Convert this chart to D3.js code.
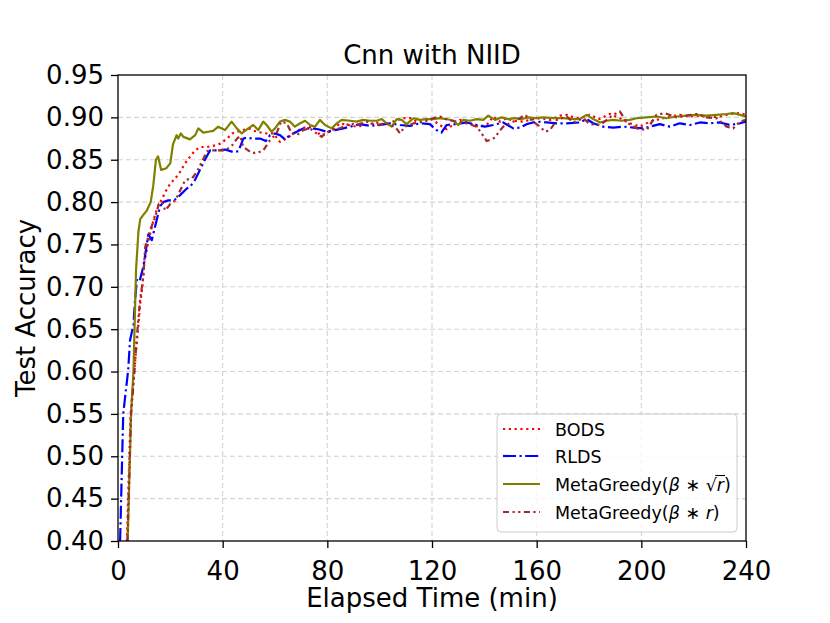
<!DOCTYPE html>
<html>
<head>
<meta charset="utf-8">
<script src="https://cdn.jsdelivr.net/npm/d3@7"></script>
<style>
  html, body { margin: 0; padding: 0; background: #fff; }
  svg { display: block; font-family: "DejaVu Sans", sans-serif; }
</style>
</head>
<body>
<div id="chart"></div>
<script>
// values: [elapsed minutes, test accuracy]
const bods = [[3.4,0.40],[4.8,0.55],[6.2,0.60],[7.5,0.645],[8.5,0.68],[9.3,0.70],[10,0.728],[11.7,0.755],[13.6,0.779],[15,0.793],[16.2,0.80],[18.1,0.812],[20,0.822],[21.9,0.828],[23.8,0.836],[25.7,0.846],[27.6,0.854],[29.5,0.861],[31.5,0.865],[34,0.865],[37.2,0.867],[39.1,0.869],[41.7,0.875],[43.6,0.881],[45.5,0.883],[47.9,0.885],[49.8,0.887],[53,0.883],[56.8,0.881],[59.4,0.881],[61.9,0.871],[64.5,0.875],[67,0.881],[70.2,0.887],[72.7,0.889],[75.3,0.887],[77.2,0.879],[79.8,0.881],[82.9,0.887],[84.8,0.893],[88,0.891],[91.2,0.889],[95,0.891],[98.9,0.894],[102.7,0.891],[105.2,0.895],[108.4,0.899],[112.2,0.899],[114.1,0.895],[119.2,0.899],[123,0.891],[125.6,0.886],[130.7,0.897],[134.5,0.893],[137.7,0.889],[140.9,0.891],[143.4,0.901],[146,0.895],[148.5,0.899],[151.1,0.896],[154.9,0.895],[157.4,0.897],[161.3,0.899],[165.1,0.897],[168.9,0.902],[171.5,0.903],[174.1,0.90],[176.5,0.899],[180.3,0.903],[184,0.898],[188,0.904],[191.8,0.899],[195.6,0.893],[199.5,0.889],[203.3,0.895],[207.1,0.898],[210.9,0.901],[214.7,0.903],[218.6,0.901],[222.4,0.902],[226.2,0.90],[230,0.901],[233.9,0.904],[237.7,0.905],[240,0.903]];

const rlds = [[0.8,0.40],[2.0,0.55],[3.9,0.602],[4.6,0.637],[5.9,0.655],[6.5,0.684],[7.2,0.708],[8.2,0.706],[9.7,0.724],[11.6,0.762],[12.9,0.755],[14.8,0.779],[16.1,0.795],[17.3,0.80],[19.2,0.802],[21.1,0.802],[22.4,0.804],[24.3,0.81],[26.3,0.816],[27.5,0.818],[29.4,0.826],[31.3,0.838],[33.2,0.85],[35.2,0.861],[37.7,0.861],[40.9,0.862],[44.1,0.859],[46,0.86],[47.9,0.875],[49.2,0.876],[51.7,0.875],[54.3,0.875],[56.5,0.872],[58.1,0.879],[60,0.881],[61.9,0.879],[63.8,0.874],[65.7,0.879],[68.3,0.883],[70.8,0.887],[74,0.887],[76.5,0.886],[79.8,0.883],[82.9,0.885],[86.1,0.887],[88.7,0.889],[92.5,0.892],[96.3,0.89],[100.1,0.891],[103.9,0.893],[107.8,0.891],[111.6,0.89],[115.4,0.893],[119.2,0.892],[121.7,0.885],[123.6,0.882],[125.6,0.891],[129.4,0.892],[133.2,0.894],[137.1,0.891],[140.2,0.889],[143.4,0.891],[147.2,0.894],[151.1,0.887],[153.6,0.888],[156.2,0.892],[160,0.895],[163.8,0.894],[167.7,0.893],[171.5,0.893],[176.5,0.894],[179.1,0.898],[181.6,0.893],[185.4,0.889],[189.3,0.888],[193.1,0.889],[196.9,0.888],[200.7,0.887],[203.3,0.889],[207.1,0.892],[210.9,0.889],[214.7,0.893],[218.6,0.891],[222.4,0.894],[226.2,0.893],[230,0.894],[233.9,0.891],[237.7,0.893],[240,0.895]];

const metaSqrt = [[3.7,0.40],[5.0,0.55],[5.9,0.60],[6.9,0.72],[7.8,0.765],[8.5,0.78],[9.7,0.785],[11,0.79],[12.5,0.80],[13.5,0.82],[14.5,0.85],[15.3,0.854],[16.5,0.838],[18.5,0.84],[20,0.846],[21,0.868],[22.4,0.879],[23,0.875],[24,0.881],[25,0.877],[27.5,0.874],[29.5,0.879],[30.7,0.887],[32.6,0.882],[34.5,0.883],[36.4,0.884],[38.3,0.889],[40.9,0.885],[43.4,0.895],[45.4,0.887],[47.3,0.881],[49.8,0.887],[51.7,0.891],[53.6,0.885],[55.5,0.895],[56.8,0.891],[58.7,0.883],[60,0.887],[61.9,0.895],[63.8,0.897],[65.7,0.895],[67.6,0.889],[69.6,0.893],[71.5,0.896],[73.4,0.891],[75.3,0.889],[77.2,0.897],[79.1,0.891],[81.7,0.887],[83.6,0.893],[85.5,0.897],[88.7,0.896],[91.2,0.895],[93.7,0.897],[96.3,0.896],[98.9,0.896],[100.8,0.898],[102.7,0.893],[104.6,0.889],[106.5,0.898],[108.4,0.897],[110.3,0.892],[112.9,0.899],[115.4,0.897],[118,0.898],[120.5,0.898],[123,0.899],[125.6,0.898],[128.1,0.896],[130,0.891],[132,0.897],[134.5,0.896],[137.1,0.898],[139.6,0.897],[141.5,0.902],[144.1,0.897],[146.6,0.90],[149.2,0.898],[151.7,0.899],[154.3,0.898],[156.8,0.90],[159.4,0.899],[162.6,0.90],[166.4,0.899],[170.2,0.899],[174.1,0.898],[176.5,0.898],[179.1,0.903],[181.6,0.898],[184.2,0.894],[186.7,0.896],[189.3,0.897],[192.4,0.896],[195.6,0.897],[198.2,0.899],[202,0.90],[205.8,0.901],[209.6,0.899],[213.5,0.901],[217.3,0.902],[221.1,0.903],[225,0.902],[228.8,0.903],[232.6,0.904],[235.1,0.905],[237.7,0.903],[240,0.901]];

const metaR = [[3.6,0.40],[5,0.55],[6.3,0.60],[7.1,0.637],[8.4,0.684],[9.7,0.712],[10.4,0.747],[12.3,0.767],[14.3,0.783],[15.6,0.798],[16.8,0.80],[18.1,0.79],[20,0.798],[21.9,0.802],[23.8,0.814],[25.7,0.826],[28.3,0.828],[30.2,0.836],[32.1,0.848],[34,0.86],[35.9,0.861],[38.5,0.861],[41,0.861],[43.6,0.867],[45.5,0.875],[46.7,0.878],[47.9,0.865],[51.1,0.858],[53,0.858],[55.5,0.861],[58.1,0.873],[60.6,0.881],[62.3,0.895],[64.5,0.893],[66.4,0.881],[68.3,0.879],[70.8,0.885],[73.4,0.887],[75.9,0.881],[77.8,0.877],[81,0.885],[84.8,0.887],[88.7,0.893],[91.2,0.891],[95,0.895],[98.9,0.891],[102.7,0.893],[105.9,0.889],[107.8,0.881],[109.5,0.889],[113,0.893],[117,0.895],[120.5,0.899],[123,0.901],[126,0.897],[129.5,0.895],[133.2,0.893],[137.1,0.889],[139,0.881],[140.9,0.872],[142.5,0.874],[144.1,0.876],[145.3,0.882],[147.2,0.889],[149.8,0.893],[153.6,0.899],[155.5,0.903],[157.4,0.898],[161.3,0.889],[163.2,0.883],[165.1,0.885],[167.7,0.897],[171.5,0.901],[174,0.894],[177.8,0.899],[180.3,0.892],[184.2,0.891],[189.3,0.903],[191.8,0.907],[194.4,0.894],[198.2,0.887],[202,0.885],[205.8,0.903],[209,0.905],[213.5,0.90],[217.3,0.902],[221.1,0.904],[225,0.90],[228.8,0.899],[232.6,0.889],[235.1,0.887],[237.7,0.895],[240,0.897]];

const xTicks = [0, 40, 80, 120, 160, 200, 240];
const yTicks = [0.40, 0.45, 0.50, 0.55, 0.60, 0.65, 0.70, 0.75, 0.80, 0.85, 0.90, 0.95];

const seriesList = [
    {key: "bods", data: bods, color: "red", dash: "2.2,3.6"},
    {key: "rlds", data: rlds, color: "blue", dash: "13,3.5,2.2,3.5"},
    {key: "sqrt", data: metaSqrt, color: "#808000", dash: null},
    {key: "r", data: metaR, color: "#a52a2a", dash: "6,3.5,2.2,3.5,2.2,3.5"},
];

const W = 830, H = 623;
const margin = {left: 118, right: 84, top: 75, bottom: 82};
const innerW = W - margin.left - margin.right;
const innerH = H - margin.top - margin.bottom;

const x = d3.scaleLinear().domain([0, 240]).range([0, innerW]);
const y = d3.scaleLinear().domain([0.40, 0.95]).range([innerH, 0]);

const svg = d3.select("#chart").append("svg")
    .attr("width", W)
    .attr("height", H);

const g = svg.append("g")
    .attr("transform", `translate(${margin.left},${margin.top})`);

g.append("defs").append("clipPath")
    .attr("id", "plot-clip")
    .append("rect")
    .attr("width", innerW)
    .attr("height", innerH);

// grid
g.append("g")
    .selectAll("line")
    .data(xTicks.slice(1, -1))
    .join("line")
    .attr("x1", d => x(d)).attr("x2", d => x(d))
    .attr("y1", 0).attr("y2", innerH)
    .attr("stroke", "#d3d3d3")
    .attr("stroke-width", 1.1)
    .attr("stroke-dasharray", "5,3");

g.append("g")
    .selectAll("line")
    .data(yTicks.slice(1, -1))
    .join("line")
    .attr("x1", 0).attr("x2", innerW)
    .attr("y1", d => y(d)).attr("y2", d => y(d))
    .attr("stroke", "#d3d3d3")
    .attr("stroke-width", 1.1)
    .attr("stroke-dasharray", "5,3");

// lines
const line = d3.line()
    .x(d => x(d[0]))
    .y(d => y(d[1]));

const lines = g.append("g").attr("clip-path", "url(#plot-clip)");
seriesList.forEach(s => {
    lines.append("path")
        .datum(s.data)
        .attr("fill", "none")
        .attr("stroke", s.color)
        .attr("stroke-width", 2.2)
        .attr("stroke-dasharray", s.dash)
        .attr("stroke-linejoin", "round")
        .attr("d", line);
});

// axes
const xAxis = g.append("g")
    .attr("transform", `translate(0,${innerH})`)
    .call(d3.axisBottom(x).tickValues(xTicks).tickSize(7).tickPadding(7).tickFormat(d3.format("d")));

const yAxis = g.append("g")
    .call(d3.axisLeft(y).tickValues(yTicks).tickSize(7).tickPadding(7).tickFormat(d3.format(".2f")));

[xAxis, yAxis].forEach(a => {
    a.select(".domain").remove();
    a.selectAll(".tick line").attr("stroke", "#000").attr("stroke-width", 1.3);
    a.selectAll(".tick text")
        .attr("fill", "#000")
        .style("font-family", "DejaVu Sans")
        .style("font-size", "26px");
});
xAxis.selectAll(".tick text").attr("dy", "0.95em");

// spines
g.append("rect")
    .attr("width", innerW)
    .attr("height", innerH)
    .attr("fill", "none")
    .attr("stroke", "#000")
    .attr("stroke-width", 1.3);

// labels
svg.append("text")
    .attr("x", margin.left + innerW / 2)
    .attr("y", 64)
    .attr("text-anchor", "middle")
    .style("font-size", "26px")
    .text("Cnn with NIID");

svg.append("text")
    .attr("x", margin.left + innerW / 2)
    .attr("y", 607)
    .attr("text-anchor", "middle")
    .style("font-size", "26px")
    .text("Elapsed Time (min)");

svg.append("text")
    .attr("transform", `translate(35,${margin.top + innerH / 2}) rotate(-90)`)
    .attr("text-anchor", "middle")
    .style("font-size", "26px")
    .text("Test Accuracy");

// legend
const legend = svg.append("g").attr("transform", "translate(497,414)");
legend.append("rect")
    .attr("width", 240)
    .attr("height", 118)
    .attr("rx", 4)
    .attr("fill", "#fff")
    .attr("fill-opacity", 0.8)
    .attr("stroke", "#cccccc")
    .attr("stroke-width", 1);

const rowY = [15, 42, 70, 98];
seriesList.forEach((s, i) => {
    const row = legend.append("g").attr("transform", `translate(0,${rowY[i]})`);
    row.append("line")
        .attr("x1", 6).attr("x2", 43)
        .attr("stroke", s.color)
        .attr("stroke-width", 2.2)
        .attr("stroke-dasharray", s.dash);
    const t = row.append("text")
        .attr("x", 58)
        .attr("y", 6.5)
        .style("font-size", "17.5px");
    if (s.key === "bods") t.text("BODS");
    else if (s.key === "rlds") t.text("RLDS");
    else {
        t.append("tspan").text("MetaGreedy(");
        t.append("tspan").style("font-style", "italic").text("β");
        t.append("tspan").text(" \u2217 ");
        if (s.key === "sqrt") {
            t.append("tspan").text("\u221A");
            t.append("tspan").style("font-style", "italic").text("r");
            t.append("tspan").text(")");
            const el = t.node();
            const n = el.getNumberOfChars();
            const start = el.getEndPositionOfChar(n - 3).x;
            const end = el.getEndPositionOfChar(n - 2).x + 1;
            row.append("line")
                .attr("x1", start - 1.5).attr("x2", end)
                .attr("y1", -8.5).attr("y2", -8.5)
                .attr("stroke", "#000")
                .attr("stroke-width", 1.1);
        } else {
            t.append("tspan").style("font-style", "italic").text("r");
            t.append("tspan").text(")");
        }
    }
});
</script>
</body>
</html>
